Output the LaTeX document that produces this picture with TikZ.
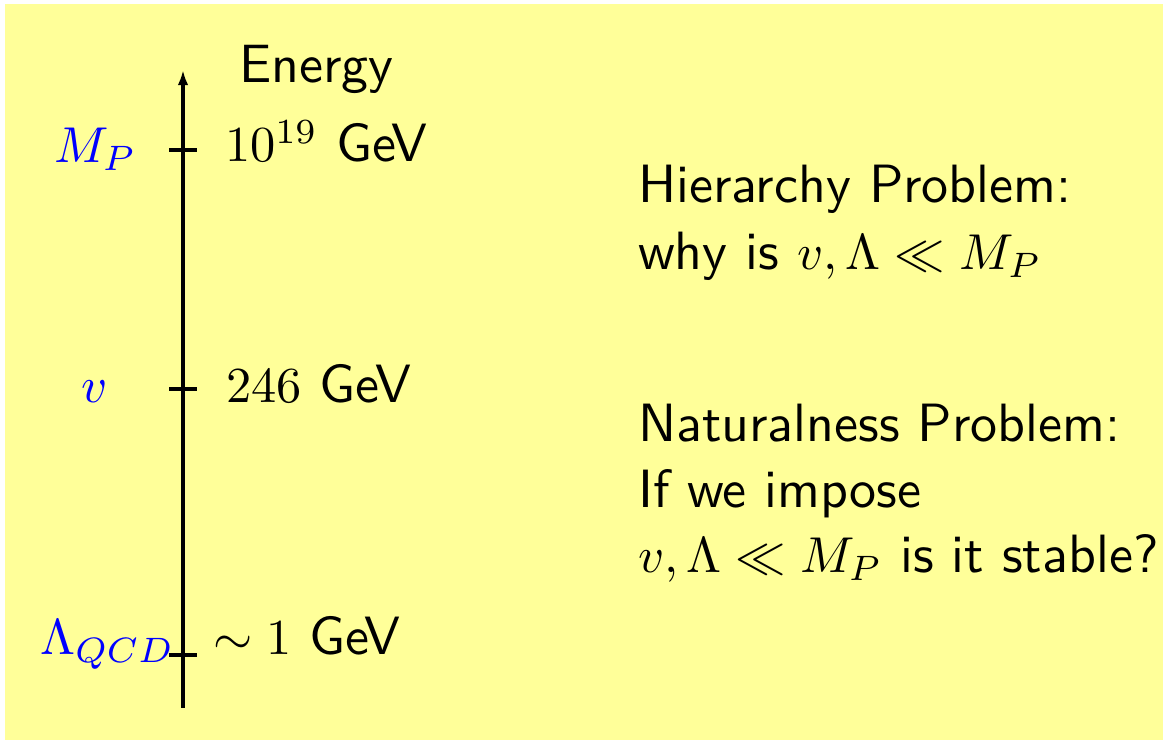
\documentclass[tikz,border=0pt]{standalone}
\usepackage{amsmath,amssymb}
\usepackage{tikz}
\usetikzlibrary{arrows.meta}
\usepackage{xcolor}
\definecolor{slideyellow}{RGB}{255,255,153}
\DeclareMathSizes{10.7}{10}{7}{5}

\begin{document}
\begin{tikzpicture}[x=0.1984pt,y=-0.1984pt,>={Latex[length=3pt,width=2.1pt]},
  txt/.style={anchor=base west,inner sep=0pt,font=\fontsize{10.7}{13}\selectfont\sffamily},
  masslbl/.style={txt,text=blue}]
\useasboundingbox (0,0) rectangle (1168,744);
\fill[slideyellow] (5,4) rectangle (1163,740);
% energy axis
\coordinate (bot) at (183,708);
\coordinate (top) at (183,70);
\draw[->,line width=0.7pt] (bot) -- (top);
\foreach \y/\n in {150/tP,389/tv,655/tL}{
  \coordinate (\n) at (183,\y);
  \draw[line width=0.7pt] (\n) ++(-14,0) -- ++(28,0);
}
\node[txt] (energy) at (238,83) {Energy};
\node[txt] (eP) at (224,162) {$10^{19}$ GeV};
\node[txt] (ev) at (225,403) {$246$ GeV};
\node[txt] (eL) at (212,655) {$\sim 1$ GeV};
\node[masslbl] (MP) at (53,163) {$M_P$};
\node[masslbl] (vev) at (80,403) {$v$};
\node[masslbl] (LQCD) at (39,655) {$\Lambda_{QCD}$};
% the two problems
\node[txt] (hier) at (637,203) {Hierarchy Problem:};
\node[txt] (why) at (637,270) {why is $v,\Lambda \ll M_P$};
\node[txt] (nat) at (637,442) {Naturalness Problem:};
\node[txt] (imp) at (637,508) {If we impose};
\node[txt] (stab) at (637,573) {$v,\Lambda \ll M_P$ is it stable?};
\end{tikzpicture}
\end{document}
